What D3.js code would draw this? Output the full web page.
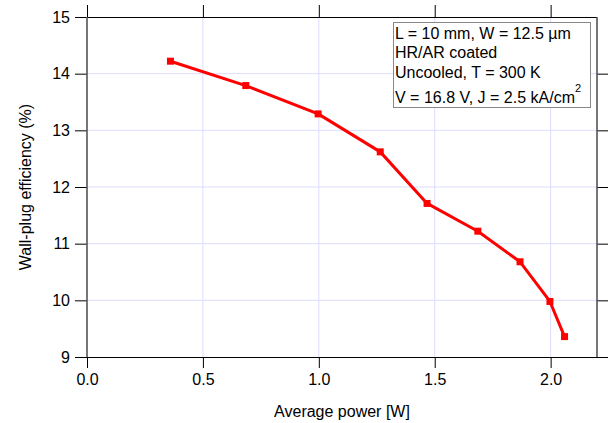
<!DOCTYPE html>
<html>
<head>
<meta charset="utf-8">
<script src="https://cdn.jsdelivr.net/npm/d3@7"></script>
<style>
  body { margin: 0; background: #fff; }
  svg text { font-family: "Liberation Sans", Arial, sans-serif; }
</style>
</head>
<body>
<svg id="chart" width="608" height="423"></svg>
<script>
// data
const power = [0.36, 0.685, 0.997, 1.265, 1.467, 1.686, 1.868, 1.997, 2.06];
const efficiency = [14.22, 13.79, 13.29, 12.62, 11.71, 11.22, 10.68, 9.98, 9.36];
const xTicks = [0, 0.5, 1.0, 1.5, 2.0];
const yTicks = [9, 10, 11, 12, 13, 14, 15];
const legendLines = ['L = 10 mm, W = 12.5 \u00b5m', 'HR/AR coated', 'Uncooled, T = 300 K'];

const svg = d3.select('#chart');
const fs = '16px';

const margin = { top: 17, right: 11, bottom: 66, left: 87 };
const width = +svg.attr('width');
const height = +svg.attr('height');
const innerWidth = width - margin.left - margin.right;
const innerHeight = height - margin.top - margin.bottom;

const xScale = d3.scaleLinear().domain([0, 2.2]).range([0, innerWidth]);
const yScale = d3.scaleLinear().domain([9, 15]).range([innerHeight, 0]);

const g = svg.append('g')
    .attr('transform', `translate(${margin.left}, ${margin.top})`);

// grid
g.append('g').selectAll('line')
  .data(xTicks.filter(d => d > 0))
  .enter().append('line')
    .attr('x1', d => xScale(d)).attr('x2', d => xScale(d))
    .attr('y1', 0).attr('y2', innerHeight)
    .attr('stroke', '#dcdcff').attr('stroke-width', 1);

g.append('g').selectAll('line')
  .data(yTicks.filter(d => d > 9 && d < 15))
  .enter().append('line')
    .attr('y1', d => yScale(d)).attr('y2', d => yScale(d))
    .attr('x1', 0).attr('x2', innerWidth)
    .attr('stroke', '#dcdcff').attr('stroke-width', 1);

// axes
const styleAxis = sel => {
  sel.select('.domain').remove();
  sel.selectAll('.tick line').attr('stroke', '#000');
  sel.selectAll('.tick text').attr('fill', '#000').style('font-size', fs);
};
const noLabels = sel => sel.selectAll('.tick text').remove();

g.append('g')
  .attr('transform', `translate(0, ${innerHeight})`)
  .call(d3.axisBottom(xScale).tickValues(xTicks).tickFormat(d3.format('.1f')).tickSize(11).tickPadding(6))
  .call(styleAxis);

g.append('g')
  .call(d3.axisTop(xScale).tickValues(xTicks).tickSize(12))
  .call(styleAxis).call(noLabels);

g.append('g')
  .call(d3.axisLeft(yScale).tickValues(yTicks).tickFormat(d3.format('d')).tickSize(12).tickPadding(5))
  .call(styleAxis);

g.append('g')
  .attr('transform', `translate(${innerWidth}, 0)`)
  .call(d3.axisRight(yScale).tickValues(yTicks.filter(d => d < 15)).tickSize(11))
  .call(styleAxis).call(noLabels);

// frame
g.append('line').attr('x1', 0).attr('x2', innerWidth).attr('y1', 0.5).attr('y2', 0.5)
  .attr('stroke', '#000');
g.append('line').attr('x1', 0).attr('x2', innerWidth).attr('y1', innerHeight + 0.5).attr('y2', innerHeight + 0.5)
  .attr('stroke', '#000');
g.append('line').attr('x1', 0).attr('x2', 0).attr('y1', 0).attr('y2', innerHeight)
  .attr('stroke', '#555').attr('stroke-width', 1.6);
g.append('line').attr('x1', innerWidth).attr('x2', innerWidth).attr('y1', 0).attr('y2', innerHeight)
  .attr('stroke', '#555').attr('stroke-width', 1.6);

// series
const points = power.map((p, i) => ({ x: p, y: efficiency[i] }));

g.append('path')
  .datum(points)
  .attr('fill', 'none')
  .attr('stroke', '#ff0000')
  .attr('stroke-width', 3)
  .attr('stroke-linejoin', 'round')
  .attr('d', d3.line().x(d => xScale(d.x)).y(d => yScale(d.y)));

g.selectAll('rect.pt')
  .data(points)
  .enter().append('rect')
    .attr('class', 'pt')
    .attr('x', d => xScale(d.x) - 3.5)
    .attr('y', d => yScale(d.y) - 3.5)
    .attr('width', 7).attr('height', 7)
    .attr('fill', '#ff0000');

// axis titles
svg.append('text')
  .attr('x', margin.left + innerWidth / 2)
  .attr('y', 417)
  .attr('text-anchor', 'middle')
  .style('font-size', fs)
  .text('Average power [W]');

svg.append('text')
  .attr('transform', `translate(31, ${margin.top + innerHeight / 2}) rotate(-90)`)
  .attr('text-anchor', 'middle')
  .style('font-size', fs)
  .text('Wall-plug efficiency (%)');

// annotation box
const box = svg.append('g').attr('transform', 'translate(393, 22)');
box.append('rect')
  .attr('x', 0.5).attr('y', 0.5)
  .attr('width', 197).attr('height', 85)
  .attr('fill', '#fff').attr('stroke', '#888');

box.selectAll('text.ln')
  .data(legendLines)
  .enter().append('text')
    .attr('class', 'ln')
    .attr('x', 2)
    .attr('y', (d, i) => 17 + i * 19.3)
    .style('font-size', fs)
    .text(d => d);

const last = box.append('text')
  .attr('x', 2).attr('y', 81)
  .style('font-size', fs);
last.append('tspan').text('V = 16.8 V, J = 2.5 kA/cm');
last.append('tspan').attr('dy', -11).style('font-size', '11px').text('2');
</script>
</body>
</html>
